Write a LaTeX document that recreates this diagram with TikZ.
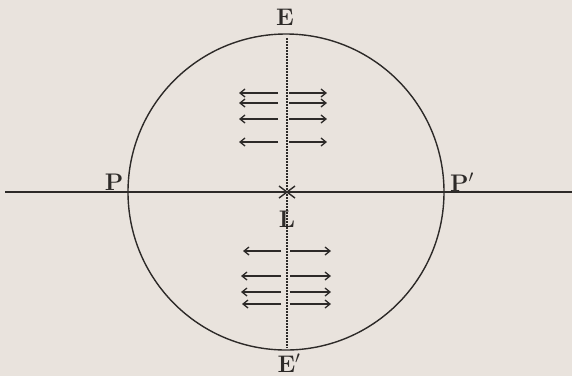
\documentclass[tikz,border=0pt]{standalone}
\usetikzlibrary{arrows.meta}
\definecolor{paper}{RGB}{233,227,221}
\definecolor{ink}{RGB}{45,42,40}
\begin{document}
\begin{tikzpicture}[x=1pt,y=-1pt,
  line/.style={draw=ink,line width=1.4pt},
  dotline/.style={draw=ink,line width=1.4pt,dash pattern=on 1.6pt off 1.4pt},
  arr/.style={draw=ink,line width=1.3pt,-{Straight Barb[length=5pt,width=8pt]}},
  lab/.style={text=ink,font=\fontsize{24}{26}\selectfont\bfseries,inner sep=0pt}]
\fill[paper] (0,0) rectangle (572,376);
\useasboundingbox (0,0) rectangle (572,376);
\coordinate (O) at (286,192);
\draw[line] (O) circle[radius=158];
\coordinate (Lend) at (5,192);
\coordinate (Rend) at (572,192);
\draw[line] (Lend) -- (Rend);
\coordinate (Top) at (287,38);
\coordinate (Bot) at (287,348);
\draw[dotline] (Top) -- (Bot);
% cross at L
\draw[line] (279,186) -- (295,198);
\draw[line] (279,198) -- (295,186);
\node[lab] (E) at (285,17) {E};
\node[lab] (E2) at (289,363) {E$'$};
\node[lab] (P) at (114,182) {P};
\node[lab] (P2) at (462,182) {P$'$};
\node[lab] (L) at (287,219) {L};
% upper arrows
\foreach \y in {93,103,119,142}{
  \coordinate (ua\y) at (278,\y); \coordinate (ub\y) at (239,\y);
  \coordinate (uc\y) at (289,\y); \coordinate (ud\y) at (327,\y);
  \draw[arr] (ua\y) -- (ub\y);
  \draw[arr] (uc\y) -- (ud\y);
}
% lower arrows
\foreach \y/\l in {251/243,276/241,292/241,304/242}{
  \coordinate (la\y) at (281,\y); \coordinate (lb\y) at (\l,\y);
  \coordinate (lc\y) at (290,\y); \coordinate (ld\y) at (331,\y);
  \draw[arr] (la\y) -- (lb\y);
  \draw[arr] (lc\y) -- (ld\y);
}
\end{tikzpicture}
\end{document}
